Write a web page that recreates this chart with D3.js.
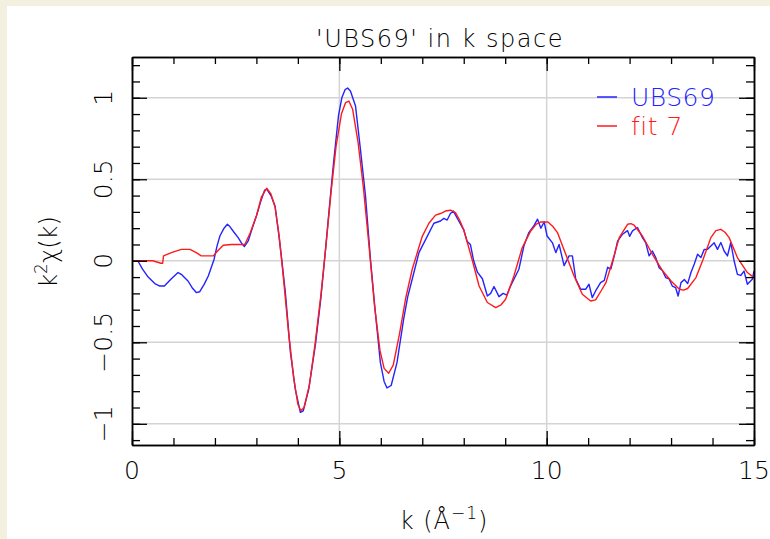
<!DOCTYPE html>
<html>
<head>
<meta charset="utf-8">
<script src="https://cdn.jsdelivr.net/npm/d3@7"></script>
<style>
  html, body { margin: 0; padding: 0; background: #f4f0e0; }
  #chart { position: absolute; left: 7px; top: 6px; width: 763px; height: 533px; background: #fff; }
  svg { position: absolute; left: 0; top: 0; }
</style>
</head>
<body>
<div id="chart"></div>
<script>
// data: [k, k^2 chi(k)]
const dataUBS69 = [
  [0, 0], [0.14, 0], [0.25, -0.05], [0.39, -0.10], [0.55, -0.14], [0.67, -0.155], [0.78, -0.155],
  [0.95, -0.11], [1.11, -0.072], [1.2, -0.085], [1.35, -0.124], [1.45, -0.165], [1.55, -0.195],
  [1.63, -0.19], [1.74, -0.145], [1.84, -0.093], [1.98, 0.01], [2.05, 0.09], [2.12, 0.152],
  [2.22, 0.2], [2.30, 0.224], [2.36, 0.21], [2.46, 0.175], [2.56, 0.142], [2.65, 0.105],
  [2.71, 0.087], [2.80, 0.12], [2.9, 0.2], [3.00, 0.275], [3.1, 0.36], [3.20, 0.434], [3.25, 0.44],
  [3.35, 0.40], [3.45, 0.336], [3.53, 0.18], [3.61, 0.01], [3.70, -0.2], [3.82, -0.56], [3.94, -0.79],
  [4.06, -0.93], [4.13, -0.92], [4.26, -0.79], [4.42, -0.52], [4.55, -0.24], [4.66, 0.05],
  [4.76, 0.33], [4.86, 0.60], [4.98, 0.89], [5.06, 1.0], [5.14, 1.05], [5.2, 1.06], [5.27, 1.04],
  [5.39, 0.95], [5.51, 0.68], [5.63, 0.40], [5.75, 0.01], [5.87, -0.32], [5.99, -0.625], [6.08, -0.74],
  [6.15, -0.78], [6.25, -0.765], [6.39, -0.625], [6.55, -0.36], [6.65, -0.22], [6.76, -0.11],
  [6.92, 0.05], [7.08, 0.13], [7.28, 0.23], [7.44, 0.244], [7.52, 0.26], [7.6, 0.25], [7.68, 0.29],
  [7.75, 0.305], [7.88, 0.244], [8.0, 0.19], [8.08, 0.12], [8.16, 0.10], [8.24, 0], [8.33, -0.07],
  [8.45, -0.11], [8.57, -0.216], [8.65, -0.2], [8.73, -0.158], [8.85, -0.22], [8.95, -0.2],
  [9.04, -0.21], [9.13, -0.155], [9.33, -0.052], [9.45, 0.09], [9.57, 0.173], [9.68, 0.21],
  [9.78, 0.255], [9.86, 0.2], [9.94, 0.238], [10.01, 0.152], [10.14, 0.11], [10.22, 0.05],
  [10.30, 0.10], [10.42, -0.03], [10.54, 0.03], [10.62, 0.03], [10.70, -0.11], [10.82, -0.175],
  [10.94, -0.175], [11.02, -0.144], [11.10, -0.226], [11.18, -0.185], [11.30, -0.134],
  [11.39, -0.12], [11.47, -0.04], [11.55, -0.05], [11.63, 0.03], [11.71, 0.12], [11.83, 0.163],
  [11.95, 0.185], [12.0, 0.15], [12.07, 0.183], [12.19, 0.204], [12.31, 0.142], [12.39, 0.11],
  [12.47, 0.03], [12.55, 0.06], [12.63, 0.02], [12.71, -0.042], [12.79, -0.06], [12.87, -0.103],
  [12.95, -0.11], [13.03, -0.155], [13.11, -0.165], [13.17, -0.216], [13.24, -0.134],
  [13.32, -0.115], [13.40, -0.14], [13.48, -0.072], [13.56, -0.02], [13.64, 0.04], [13.72, 0.02],
  [13.80, 0.07], [13.88, 0.07], [13.96, 0.09], [14.04, 0.11], [14.12, 0.07], [14.20, 0.112],
  [14.28, 0.06], [14.36, 0.03], [14.44, 0.112], [14.52, 0], [14.60, -0.083], [14.68, -0.09],
  [14.76, -0.063], [14.84, -0.144], [14.96, -0.113], [15.0, -0.063]
];

const dataFit7 = [
  [0, 0], [0.5, 0], [0.7, -0.015], [0.74, -0.015], [0.76, 0.03], [0.95, 0.05], [1.19, 0.07],
  [1.40, 0.07], [1.55, 0.05], [1.67, 0.03], [1.96, 0.03], [2.08, 0.065], [2.20, 0.095], [2.4, 0.10],
  [2.72, 0.10], [2.85, 0.17], [3.0, 0.275], [3.12, 0.39], [3.25, 0.445], [3.35, 0.41], [3.45, 0.33],
  [3.55, 0.15], [3.65, -0.1], [3.78, -0.45], [3.9, -0.72], [4.0, -0.88], [4.07, -0.92], [4.15, -0.9],
  [4.28, -0.76], [4.42, -0.5], [4.56, -0.2], [4.68, 0.1], [4.8, 0.42], [4.92, 0.70], [5.05, 0.90],
  [5.15, 0.97], [5.23, 0.98], [5.32, 0.93], [5.45, 0.73], [5.58, 0.45], [5.72, 0.08], [5.85, -0.28],
  [5.98, -0.55], [6.08, -0.66], [6.19, -0.69], [6.3, -0.64], [6.45, -0.45], [6.6, -0.23],
  [6.76, -0.05], [7.0, 0.15], [7.16, 0.23], [7.32, 0.28], [7.44, 0.29], [7.56, 0.305], [7.68, 0.31],
  [7.80, 0.295], [7.9, 0.25], [8.0, 0.19], [8.1, 0.1], [8.21, 0], [8.37, -0.155], [8.57, -0.256],
  [8.77, -0.287], [8.9, -0.27], [9.01, -0.236], [9.21, -0.093], [9.41, 0.08], [9.61, 0.18],
  [9.75, 0.225], [9.86, 0.238], [10.03, 0.238], [10.15, 0.21], [10.26, 0.173], [10.46, 0.04],
  [10.66, -0.093], [10.86, -0.205], [11.06, -0.247], [11.18, -0.24], [11.3, -0.19], [11.43, -0.134],
  [11.59, 0], [11.75, 0.142], [11.95, 0.224], [12.03, 0.228], [12.11, 0.218], [12.31, 0.152],
  [12.55, 0.04], [12.80, -0.063], [13.0, -0.124], [13.20, -0.175], [13.30, -0.18], [13.40, -0.17],
  [13.60, -0.103], [13.76, 0], [13.96, 0.142], [14.08, 0.185], [14.20, 0.193], [14.30, 0.175],
  [14.40, 0.142], [14.60, 0.02], [14.84, -0.072], [15.0, -0.103]
];

const xMajorTicks = [0, 5, 10, 15];
const xMinorTicks = d3.range(0, 15.01, 1);
const yMajorTicks = [-1, -0.5, 0, 0.5, 1];
const yMinorTicks = d3.range(-11, 13).map((d) => d / 10);
const xGrid = [5, 10];
const yGrid = [-1, -0.5, 0, 0.5, 1];

const series = [
  { name: "UBS69", color: "#2323ff", values: dataUBS69 },
  { name: "fit 7", color: "#ff1a1a", values: dataFit7 },
];

// svg coordinates are page coordinates (svg is shifted back by the panel offset)
const width = 770;
const height = 539;
const font = "'DejaVu Sans', sans-serif";

const svg = d3
  .select("#chart")
  .append("svg")
  .attr("width", width)
  .attr("height", height)
  .style("left", "-7px")
  .style("top", "-6px");

const x = d3.scaleLinear().domain([0, 15]).range([132, 754]);
const y = d3.scaleLinear().domain([-1.13, 1.25]).range([445, 57]);

// grid
svg
  .append("g")
  .attr("stroke", "#d4d4d4")
  .attr("stroke-width", 1.5)
  .call((g) =>
    g.selectAll(".gx").data(xGrid).join("line")
      .attr("x1", (d) => x(d)).attr("x2", (d) => x(d))
      .attr("y1", y.range()[0]).attr("y2", y.range()[1])
  )
  .call((g) =>
    g.selectAll(".gy").data(yGrid).join("line")
      .attr("x1", x.range()[0]).attr("x2", x.range()[1])
      .attr("y1", (d) => y(d)).attr("y2", (d) => y(d))
  );

// curves
const line = d3.line().x((d) => x(d[0])).y((d) => y(d[1]));

svg
  .append("g")
  .attr("fill", "none")
  .attr("stroke-width", 1.4)
  .attr("stroke-linejoin", "round")
  .selectAll("path")
  .data(series)
  .join("path")
  .attr("d", (d) => line(d.values))
  .attr("stroke", (d) => d.color);

// axes: ticks pointing inwards on all four sides
function frameAxis(axis, transform, ticks, size) {
  svg
    .append("g")
    .attr("transform", transform)
    .call(axis.tickValues(ticks).tickSize(-size).tickFormat("").tickSizeOuter(0))
    .call((g) => g.select(".domain").attr("stroke", "#000").attr("stroke-width", 1.5))
    .call((g) => g.selectAll(".tick line").attr("stroke", "#000").attr("stroke-width", 1.3));
}

const [x0, x1] = x.range();
const [y0, y1] = y.range();

frameAxis(d3.axisBottom(x), `translate(0,${y0})`, xMinorTicks, 7);
frameAxis(d3.axisBottom(x), `translate(0,${y0})`, xMajorTicks, 14);
frameAxis(d3.axisTop(x), `translate(0,${y1})`, xMinorTicks, 7);
frameAxis(d3.axisTop(x), `translate(0,${y1})`, xMajorTicks, 14);
frameAxis(d3.axisLeft(y), `translate(${x0},0)`, yMinorTicks, 8);
frameAxis(d3.axisLeft(y), `translate(${x0},0)`, yMajorTicks, 15);
frameAxis(d3.axisRight(y), `translate(${x1},0)`, yMinorTicks, 8);
frameAxis(d3.axisRight(y), `translate(${x1},0)`, yMajorTicks, 15);

// tick labels
const fmt = (d) => (d < 0 ? "\u2212" + Math.abs(d) : String(d));

svg
  .append("g")
  .attr("font-family", font)
  .attr("font-weight", 200)
  .attr("font-size", 25)
  .attr("fill", "#000")
  .attr("text-anchor", "middle")
  .selectAll("text")
  .data(xMajorTicks)
  .join("text")
  .attr("x", (d) => x(d))
  .attr("y", 479)
  .text(fmt);

svg
  .append("g")
  .attr("font-family", font)
  .attr("font-weight", 200)
  .attr("font-size", 25)
  .attr("fill", "#000")
  .attr("text-anchor", "middle")
  .selectAll("text")
  .data(yMajorTicks)
  .join("text")
  .attr("transform", (d) => `translate(112,${y(d)}) rotate(-90)`)
  .text(fmt);

// title and axis labels
svg
  .append("text")
  .attr("x", 440)
  .attr("y", 47)
  .attr("text-anchor", "middle")
  .attr("font-family", font)
  .attr("font-weight", 200)
  .attr("font-size", 24)
  .attr("letter-spacing", 1.5)
  .attr("fill", "#000")
  .text("'UBS69' in k space");

svg
  .append("text")
  .attr("x", 444)
  .attr("y", 529)
  .attr("text-anchor", "middle")
  .attr("font-family", font)
  .attr("font-weight", 200)
  .attr("font-size", 24)
  .attr("letter-spacing", 1)
  .attr("fill", "#000")
  .call((t) => t.append("tspan").text("k (Å"))
  .call((t) => t.append("tspan").attr("dy", -10).attr("font-size", 17).text("\u22121"))
  .call((t) => t.append("tspan").attr("dy", 10).text(")"));

svg
  .append("text")
  .attr("transform", "translate(57,252) rotate(-90)")
  .attr("text-anchor", "middle")
  .attr("font-family", font)
  .attr("font-weight", 200)
  .attr("font-size", 24)
  .attr("fill", "#000")
  .call((t) => t.append("tspan").text("k"))
  .call((t) => t.append("tspan").attr("dy", -10).attr("font-size", 17).text("2"))
  .call((t) => t.append("tspan").attr("dy", 10).text("\u03c7(k)"));

// legend
const legend = svg
  .append("g")
  .selectAll("g")
  .data(series)
  .join("g")
  .attr("transform", (d, i) => `translate(597,${97 + i * 29})`);

legend
  .append("line")
  .attr("x1", 0)
  .attr("x2", 20)
  .attr("stroke", (d) => d.color)
  .attr("stroke-width", 1.5);

legend
  .append("text")
  .attr("x", 34)
  .attr("y", 9)
  .attr("font-family", font)
  .attr("font-weight", 200)
  .attr("font-size", 25)
  .attr("letter-spacing", 0.5)
  .attr("fill", (d) => d.color)
  .text((d) => d.name);
</script>
</body>
</html>
